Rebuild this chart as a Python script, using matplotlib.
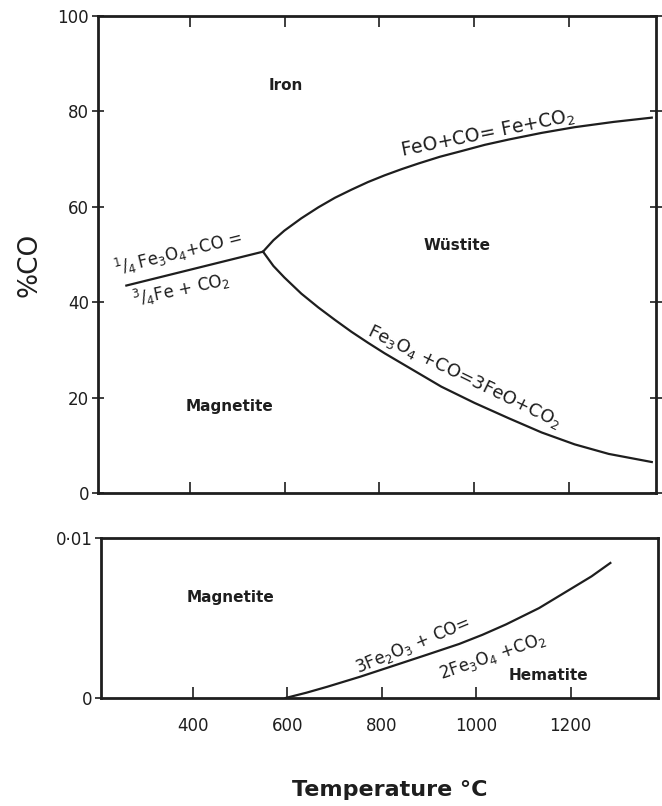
import matplotlib
matplotlib.use("Agg")
import matplotlib.pyplot as plt

plt.rcParams['font.family'] = ['DejaVu Sans']
plt.rcParams['mathtext.default'] = 'regular'

# ---- data ----
# top panel, %CO against temperature
t_fe3o4_fe = [265, 554]
co_fe3o4_fe = [43.5, 50.6]

t_feo_fe = [554, 576, 599, 635, 671, 706, 741, 776, 811, 847, 883, 928, 974,
            1023, 1073, 1143, 1213, 1295, 1376]
co_feo_fe = [50.6, 53.0, 55.0, 57.6, 59.9, 61.9, 63.6, 65.2, 66.6, 67.9, 69.1,
             70.5, 71.7, 73.0, 74.1, 75.5, 76.7, 77.8, 78.7]

t_fe3o4_feo = [554, 576, 599, 635, 671, 706, 741, 776, 811, 847, 883, 931,
               1001, 1073, 1143, 1213, 1285, 1376]
co_fe3o4_feo = [50.6, 47.6, 45.2, 41.8, 38.9, 36.3, 33.8, 31.5, 29.3, 27.2, 25.1,
                22.3, 18.9, 15.7, 12.7, 10.2, 8.2, 6.5]

# bottom panel, hematite / magnetite boundary
t_fe2o3_fe3o4 = [596, 640, 684, 754, 823, 895, 964, 1013, 1063, 1133, 1202,
                 1244, 1284]
co_fe2o3_fe3o4 = [0.0, 0.00033, 0.0007, 0.00133, 0.0020, 0.0027, 0.00338,
                  0.00395, 0.0046, 0.00562, 0.00685, 0.0076, 0.00844]

x_ticks = [400, 600, 800, 1000, 1200]
top_y_ticks = [0, 20, 40, 60, 80, 100]
bottom_y_ticks = [0, 0.01]
bottom_y_labels = ['0', '0·01']

ink = '#1e1e1e'
xlim = (205, 1385)

fig = plt.figure(figsize=(6.62, 8.06), dpi=100)
ax_top = fig.add_axes([0.148, 0.3883, 0.843, 0.5918])
ax_bot = fig.add_axes([0.1526, 0.134, 0.8414, 0.1985])

for ax in (ax_top, ax_bot):
    for sp in ax.spines.values():
        sp.set_linewidth(2.0)
        sp.set_color(ink)
    ax.set_xlim(*xlim)
    ax.set_xticks(x_ticks)
    ax.tick_params(colors=ink, labelsize=12, width=1.2)

# ---- top panel ----
line_kw = dict(color=ink, lw=1.6, solid_joinstyle='round')
ax_top.plot(t_fe3o4_fe, co_fe3o4_fe, **line_kw)
ax_top.plot(t_feo_fe, co_feo_fe, **line_kw)
ax_top.plot(t_fe3o4_feo, co_fe3o4_feo, **line_kw)
ax_top.set_ylim(0, 100)
ax_top.set_yticks(top_y_ticks)
ax_top.tick_params(axis='x', direction='in', length=8, top=True, labelbottom=False)
ax_top.tick_params(axis='y', direction='inout', length=9, right=True, pad=2)
ax_top.tick_params(axis='y', which='major', labelright=False)

ax_top.text(603, 85.4, 'Iron', ha='center', va='center', fontsize=11, fontweight='bold', color=ink)
ax_top.text(965, 51.9, 'Wüstite', ha='center', va='center', fontsize=11, fontweight='bold', color=ink)
ax_top.text(483, 18.2, 'Magnetite', ha='center', va='center', fontsize=11, fontweight='bold', color=ink)

ax_top.text(1029, 75.3, 'FeO+CO= Fe+CO$_2$', ha='center', va='center',
            rotation=11.5, fontsize=13.5, color=ink)
ax_top.text(375, 50.4, r'$^1/_4\,$Fe$_3$O$_4$+CO =', ha='center', va='center',
            rotation=14, fontsize=12, color=ink)
ax_top.text(381, 42.6, r'$^3/_4$Fe + CO$_2$', ha='center', va='center',
            rotation=12, fontsize=12, color=ink)
ax_top.text(980, 24.4, 'Fe$_3$O$_4$ +CO=3FeO+CO$_2$', ha='center', va='center',
            rotation=-26, fontsize=13, color=ink)

# ---- bottom panel ----
ax_bot.plot(t_fe2o3_fe3o4, co_fe2o3_fe3o4, **line_kw)
ax_bot.set_ylim(0, 0.01)
ax_bot.set_yticks(bottom_y_ticks)
ax_bot.set_yticklabels(bottom_y_labels)
ax_bot.tick_params(axis='x', direction='in', length=8, pad=14)
ax_bot.tick_params(axis='y', direction='out', length=4, pad=2)

ax_bot.text(480, 0.0063, 'Magnetite', ha='center', va='center', fontsize=11, fontweight='bold', color=ink)
ax_bot.text(1152, 0.00138, 'Hematite', ha='center', va='center', fontsize=11, fontweight='bold', color=ink)
ax_bot.text(866, 0.0033, '3Fe$_2$O$_3$ + CO=', ha='center', va='center',
            rotation=22.5, fontsize=12, color=ink)
ax_bot.text(1034, 0.0026, '2Fe$_3$O$_4$ +CO$_2$', ha='center', va='center',
            rotation=19, fontsize=12, color=ink)

# axis titles
fig.text(30 / 662, 1 - 265 / 806, '%CO', rotation=90, ha='center', va='center',
         fontsize=19, color=ink)
fig.text(390 / 662, 1 - 790 / 806, 'Temperature °C', ha='center', va='center',
         fontsize=16, fontweight='bold', color=ink)

fig.savefig('out.png', dpi=100, facecolor='white')
